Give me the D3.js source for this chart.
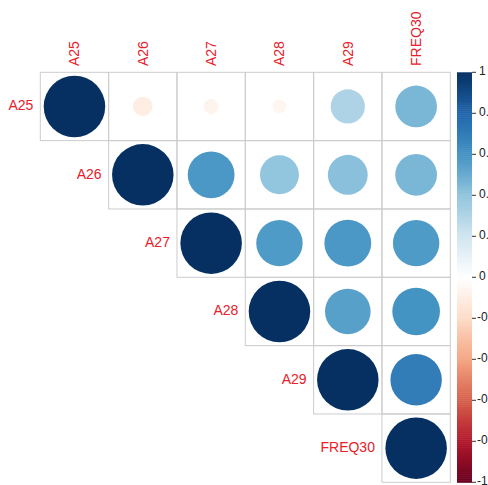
<!DOCTYPE html>
<html>
<head>
<meta charset="utf-8">
<script src="https://cdn.jsdelivr.net/npm/d3@7"></script>
<style>
  html, body { margin: 0; padding: 0; background: #fff; }
  svg { display: block; }
  text { font-family: "Liberation Sans", Arial, sans-serif; }
</style>
</head>
<body>
<svg id="chart" width="488" height="485"></svg>
<script>
// Variables of the correlation matrix
const variables = ["A25", "A26", "A27", "A28", "A29", "FREQ30"];

// Upper-triangle correlations, one array per row (starting at the diagonal)
const rowA25 = [1, -0.10, -0.06, -0.05, 0.31, 0.46];
const rowA26 = [1, 0.58, 0.40, 0.42, 0.46];
const rowA27 = [1, 0.57, 0.58, 0.57];
const rowA28 = [1, 0.55, 0.60];
const rowA29 = [1, 0.70];
const rowFREQ30 = [1];
const rows = [rowA25, rowA26, rowA27, rowA28, rowA29, rowFREQ30];

// Colour legend ticks
const legendTicks = [1, 0.8, 0.6, 0.4, 0.2, 0, -0.2, -0.4, -0.6, -0.8, -1];
const legendLabels = ["1", "0.8", "0.6", "0.4", "0.2", "0", "-0.2", "-0.4", "-0.6", "-0.8", "-1"];

// Diverging red-blue palette, from -1 to 1
const palette = ["#67001F", "#B2182B", "#D6604D", "#F4A582", "#FDDBC7", "#FFFFFF",
                 "#D1E5F0", "#92C5DE", "#4393C3", "#2166AC", "#053061"];

const svg = d3.select("#chart");
const labelColor = "#e8202a";

const x = d3.scaleBand().domain(variables).range([40.3, 450.3]);
const y = d3.scaleBand().domain(variables).range([72.3, 482.3]);
const color = d3.scaleLinear()
  .domain(d3.range(palette.length).map(i => -1 + 2 * i / (palette.length - 1)))
  .range(palette)
  .interpolate(d3.interpolateRgb);

// Flatten the triangle into cells
const cells = [];
rows.forEach((vals, i) => {
  vals.forEach((v, k) => {
    const j = i + k;
    cells.push({ row: variables[i], col: variables[j], value: v });
  });
});

const bw = x.bandwidth();
const radius = d3.scaleSqrt().domain([0, 1]).range([0, 0.45 * bw]);

// Cell grid
svg.append("g").selectAll("rect")
  .data(cells)
  .join("rect")
  .attr("x", d => x(d.col))
  .attr("y", d => y(d.row))
  .attr("width", bw)
  .attr("height", y.bandwidth())
  .attr("fill", "none")
  .attr("stroke", "#cccccc")
  .attr("stroke-width", 1);

// Circles: area proportional to |r|
svg.append("g").selectAll("circle")
  .data(cells)
  .join("circle")
  .attr("cx", d => x(d.col) + bw / 2)
  .attr("cy", d => y(d.row) + y.bandwidth() / 2)
  .attr("r", d => radius(Math.abs(d.value)))
  .attr("fill", d => color(d.value));

// Column labels (rotated, along the top)
svg.append("g").selectAll("text")
  .data(variables)
  .join("text")
  .attr("transform", d => `translate(${x(d) + bw / 2 + 1},66) rotate(-90)`)
  .attr("text-anchor", "start")
  .attr("dominant-baseline", "middle")
  .attr("font-size", 14)
  .attr("fill", labelColor)
  .text(d => d);

// Row labels (left of the diagonal cell)
svg.append("g").selectAll("text")
  .data(variables)
  .join("text")
  .attr("x", (d, i) => x(variables[i]) - 7)
  .attr("y", d => y(d) + y.bandwidth() / 2)
  .attr("text-anchor", "end")
  .attr("dominant-baseline", "middle")
  .attr("font-size", 14)
  .attr("fill", labelColor)
  .text(d => d);

// Colour legend
const ly = d3.scaleLinear().domain([1, -1]).range([72.3, 482.3]);
const lx0 = 457, lw = 15;
const steps = d3.range(200).map(i => -1 + (i + 0.5) * 2 / 200);
svg.append("g").selectAll("rect")
  .data(steps)
  .join("rect")
  .attr("x", lx0)
  .attr("y", d => ly(d + 1 / 200))
  .attr("width", lw)
  .attr("height", ly(-1) - ly(-1 + 2 / 200) + 0.5)
  .attr("fill", d => color(d));

const leg = svg.append("g");
leg.selectAll("line")
  .data(legendTicks)
  .join("line")
  .attr("x1", lx0 + lw)
  .attr("x2", lx0 + lw + 4)
  .attr("y1", d => ly(d))
  .attr("y2", d => ly(d))
  .attr("stroke", "#333")
  .attr("stroke-width", 1);
leg.selectAll("text")
  .data(legendTicks)
  .join("text")
  .attr("x", (d, i) => legendLabels[i].startsWith("-") ? lx0 + lw + 5 : lx0 + lw + 7)
  .attr("y", d => ly(d))
  .attr("dominant-baseline", "middle")
  .attr("font-size", 12)
  .attr("fill", "#222")
  .text((d, i) => legendLabels[i]);
</script>
</body>
</html>
